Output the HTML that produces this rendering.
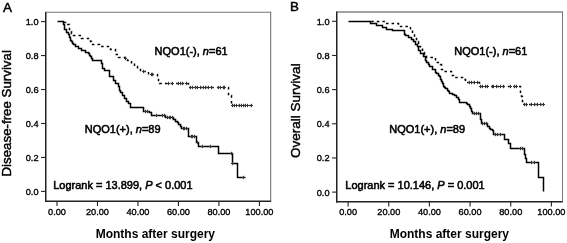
<!DOCTYPE html>
<html><head><meta charset="utf-8"><style>
html,body{margin:0;padding:0;background:#fff;width:567px;height:243px;overflow:hidden}
svg{display:block;will-change:transform}
text{font-family:"Liberation Sans",sans-serif;fill:#000}
.tk{font-size:9.2px;stroke:#000;stroke-width:0.35px}
.lab{font-size:12px;font-weight:bold}
.ylab{font-size:13.3px;stroke:#000;stroke-width:0.45px}
.ann{font-size:11px;stroke:#000;stroke-width:0.55px}
.let{font-size:13.3px;stroke:#000;stroke-width:0.5px}
</style></head><body>
<svg width="567" height="243" viewBox="0 0 567 243">
<path d="M45.75,11.75V202.0" stroke="#222" stroke-width="1.5"/>
<path d="M45.0,201.25H271.2" stroke="#222" stroke-width="1.5"/>
<path d="M45.75,12.25H270.7" stroke="#777" stroke-width="1"/>
<path d="M270.7,11.75V201.25" stroke="#666" stroke-width="1"/>
<path d="M41.05,21.60H45.75" stroke="#222" stroke-width="1.1"/>
<text transform="translate(38.55,25.10) scale(1,1.05)" class="tk" text-anchor="end">1.0</text>
<path d="M41.05,55.56H45.75" stroke="#222" stroke-width="1.1"/>
<text transform="translate(38.55,59.06) scale(1,1.05)" class="tk" text-anchor="end">0.8</text>
<path d="M41.05,89.52H45.75" stroke="#222" stroke-width="1.1"/>
<text transform="translate(38.55,93.02) scale(1,1.05)" class="tk" text-anchor="end">0.6</text>
<path d="M41.05,123.48H45.75" stroke="#222" stroke-width="1.1"/>
<text transform="translate(38.55,126.98) scale(1,1.05)" class="tk" text-anchor="end">0.4</text>
<path d="M41.05,157.44H45.75" stroke="#222" stroke-width="1.1"/>
<text transform="translate(38.55,160.94) scale(1,1.05)" class="tk" text-anchor="end">0.2</text>
<path d="M41.05,191.40H45.75" stroke="#222" stroke-width="1.1"/>
<text transform="translate(38.55,194.90) scale(1,1.05)" class="tk" text-anchor="end">0.0</text>
<path d="M57.00,201.25V206.05" stroke="#222" stroke-width="1.1"/>
<text transform="translate(57.00,214.7) scale(1,1.05)" class="tk" text-anchor="middle">0.00</text>
<path d="M97.48,201.25V206.05" stroke="#222" stroke-width="1.1"/>
<text transform="translate(97.48,214.7) scale(1,1.05)" class="tk" text-anchor="middle">20.00</text>
<path d="M137.96,201.25V206.05" stroke="#222" stroke-width="1.1"/>
<text transform="translate(137.96,214.7) scale(1,1.05)" class="tk" text-anchor="middle">40.00</text>
<path d="M178.44,201.25V206.05" stroke="#222" stroke-width="1.1"/>
<text transform="translate(178.44,214.7) scale(1,1.05)" class="tk" text-anchor="middle">60.00</text>
<path d="M218.92,201.25V206.05" stroke="#222" stroke-width="1.1"/>
<text transform="translate(218.92,214.7) scale(1,1.05)" class="tk" text-anchor="middle">80.00</text>
<path d="M259.40,201.25V206.05" stroke="#222" stroke-width="1.1"/>
<text transform="translate(259.40,214.7) scale(1,1.05)" class="tk" text-anchor="middle">100.00</text>
<path d="M336.75,11.5V202.5" stroke="#222" stroke-width="1.5"/>
<path d="M336.0,201.75H563.0" stroke="#222" stroke-width="1.5"/>
<path d="M336.75,12.0H562.5" stroke="#444" stroke-width="1"/>
<path d="M562.5,11.5V201.75" stroke="#777" stroke-width="1"/>
<path d="M332.05,21.30H336.75" stroke="#222" stroke-width="1.1"/>
<text transform="translate(329.55,24.80) scale(1,1.05)" class="tk" text-anchor="end">1.0</text>
<path d="M332.05,55.46H336.75" stroke="#222" stroke-width="1.1"/>
<text transform="translate(329.55,58.96) scale(1,1.05)" class="tk" text-anchor="end">0.8</text>
<path d="M332.05,89.62H336.75" stroke="#222" stroke-width="1.1"/>
<text transform="translate(329.55,93.12) scale(1,1.05)" class="tk" text-anchor="end">0.6</text>
<path d="M332.05,123.78H336.75" stroke="#222" stroke-width="1.1"/>
<text transform="translate(329.55,127.28) scale(1,1.05)" class="tk" text-anchor="end">0.4</text>
<path d="M332.05,157.94H336.75" stroke="#222" stroke-width="1.1"/>
<text transform="translate(329.55,161.44) scale(1,1.05)" class="tk" text-anchor="end">0.2</text>
<path d="M332.05,192.10H336.75" stroke="#222" stroke-width="1.1"/>
<text transform="translate(329.55,195.60) scale(1,1.05)" class="tk" text-anchor="end">0.0</text>
<path d="M348.10,201.75V206.55" stroke="#222" stroke-width="1.1"/>
<text transform="translate(348.10,215.0) scale(1,1.05)" class="tk" text-anchor="middle">0.00</text>
<path d="M388.76,201.75V206.55" stroke="#222" stroke-width="1.1"/>
<text transform="translate(388.76,215.0) scale(1,1.05)" class="tk" text-anchor="middle">20.00</text>
<path d="M429.42,201.75V206.55" stroke="#222" stroke-width="1.1"/>
<text transform="translate(429.42,215.0) scale(1,1.05)" class="tk" text-anchor="middle">40.00</text>
<path d="M470.08,201.75V206.55" stroke="#222" stroke-width="1.1"/>
<text transform="translate(470.08,215.0) scale(1,1.05)" class="tk" text-anchor="middle">60.00</text>
<path d="M510.74,201.75V206.55" stroke="#222" stroke-width="1.1"/>
<text transform="translate(510.74,215.0) scale(1,1.05)" class="tk" text-anchor="middle">80.00</text>
<path d="M551.40,201.75V206.55" stroke="#222" stroke-width="1.1"/>
<text transform="translate(551.40,215.0) scale(1,1.05)" class="tk" text-anchor="middle">100.00</text>

<path d="M57.50,21.50L63.50,21.50L63.50,24.50L64.50,24.50L64.50,26.50L64.50,29.50L65.50,29.50L66.50,29.50L66.50,32.50L67.50,32.50L68.50,32.50L68.50,34.50L69.50,34.50L69.50,37.50L70.50,37.50L70.50,40.50L71.50,40.50L71.50,41.50L72.50,41.50L72.50,43.50L73.50,43.50L73.50,44.50L74.50,44.50L75.50,44.50L75.50,46.50L77.50,46.50L78.50,46.50L78.50,48.50L80.50,48.50L81.50,48.50L81.50,50.50L83.50,50.50L85.50,50.50L85.50,52.50L87.50,52.50L88.50,52.50L88.50,53.50L89.50,53.50L89.50,55.50L90.50,55.50L90.50,56.50L91.50,56.50L91.50,58.50L92.50,58.50L92.50,60.50L93.50,60.50L101.50,60.50L101.50,63.50L102.50,63.50L102.50,68.50L104.50,68.50L104.50,70.50L109.50,70.50L109.50,76.50L113.50,76.50L113.50,80.50L115.50,80.50L115.50,83.50L118.50,83.50L118.50,86.50L119.50,86.50L119.50,90.50L120.50,90.50L120.50,92.50L122.50,92.50L122.50,95.50L124.50,95.50L124.50,98.50L126.50,98.50L126.50,101.50L128.50,101.50L128.50,103.50L130.50,103.50L130.50,107.50L143.50,107.50L143.50,111.50L148.50,111.50L149.50,111.50L149.50,112.50L151.50,112.50L151.50,115.50L152.50,115.50L165.50,115.50L165.50,117.50L173.50,117.50L173.50,119.50L174.50,119.50L175.50,119.50L175.50,121.50L177.50,121.50L177.50,122.50L178.50,122.50L178.50,124.50L179.50,124.50L180.50,124.50L180.50,126.50L181.50,126.50L181.50,128.50L188.50,128.50L188.50,133.50L188.50,136.50L189.50,136.50L196.50,136.50L196.50,142.50L198.50,142.50L198.50,146.50L218.50,146.50L218.50,153.50L232.50,153.50L232.50,163.50L237.50,163.50L237.50,177.50L245.50,177.50" fill="none" stroke="#000" stroke-width="1.5"/>
<path d="M145.5,109.8V113.2M144.0,111.5H147.0M147.5,109.8V113.2M146.0,111.5H149.0M156.5,113.8V117.2M155.0,115.5H158.0M162.5,113.8V117.2M161.0,115.5H164.0M164.5,113.8V117.2M163.0,115.5H166.0M167.5,115.8V119.2M166.0,117.5H169.0M169.5,115.8V119.2M168.0,117.5H171.0M170.5,115.8V119.2M169.0,117.5H172.0M172.5,115.8V119.2M171.0,117.5H174.0M183.5,126.8V130.2M182.0,128.5H185.0M184.5,126.8V130.2M183.0,128.5H186.0M186.5,126.8V130.2M185.0,128.5H188.0M191.5,134.8V138.2M190.0,136.5H193.0M192.5,134.8V138.2M191.0,136.5H194.0M194.5,134.8V138.2M193.0,136.5H196.0M197.5,140.8V144.2M196.0,142.5H199.0M202.5,144.8V148.2M201.0,146.5H204.0M210.5,144.8V148.2M209.0,146.5H212.0M231.5,151.8V155.2M230.0,153.5H233.0M232.5,161.8V165.2M231.0,163.5H234.0M243.5,175.8V179.2M242.0,177.5H245.0" stroke="#333" stroke-width="1"/>
<path d="M63.50,21.50L63.50,22.50L65.50,22.50L65.50,23.50L66.50,23.50L66.50,24.50L67.50,24.50L69.50,24.50L69.50,30.50L69.50,31.50L71.50,31.50L71.50,33.50L72.50,33.50L72.50,34.50L73.50,34.50L73.50,35.50L74.50,35.50L81.50,35.50L81.50,38.50L89.50,38.50L90.50,38.50L90.50,41.50L91.50,41.50L91.50,44.50L93.50,44.50L94.50,44.50L96.50,44.50L99.50,44.50L99.50,46.50L110.50,46.50L110.50,49.50L115.50,49.50L115.50,54.50L118.50,54.50L118.50,57.50L127.50,57.50L127.50,60.50L131.50,60.50L131.50,63.50L134.50,63.50L134.50,66.50L137.50,66.50L137.50,69.50L140.50,69.50L140.50,71.50L148.50,71.50L148.50,74.50L156.50,74.50L157.50,74.50L157.50,77.50L158.50,77.50L158.50,80.50L159.50,80.50L159.50,83.50L188.50,83.50L188.50,87.50L228.50,87.50L228.50,95.50L231.50,95.50L231.50,105.50L252.50,105.50" fill="none" stroke="#000" stroke-width="1.5" stroke-dasharray="2.5,3.1" stroke-dashoffset="4.6"/>
<path d="M125.5,56.8V60.2M124.0,58.5H127.0M143.5,69.8V73.2M142.0,71.5H145.0M151.5,72.8V76.2M150.0,74.5H153.0M152.5,72.8V76.2M151.0,74.5H154.0M168.5,81.8V85.2M167.0,83.5H170.0M172.5,81.8V85.2M171.0,83.5H174.0M178.5,81.8V85.2M177.0,83.5H180.0M180.5,81.8V85.2M179.0,83.5H182.0M182.5,81.8V85.2M181.0,83.5H184.0M186.5,81.8V85.2M185.0,83.5H188.0M190.5,85.8V89.2M189.0,87.5H192.0M192.5,85.8V89.2M191.0,87.5H194.0M195.5,85.8V89.2M194.0,87.5H197.0M197.5,85.8V89.2M196.0,87.5H199.0M200.5,85.8V89.2M199.0,87.5H202.0M203.5,85.8V89.2M202.0,87.5H205.0M205.5,85.8V89.2M204.0,87.5H207.0M208.5,85.8V89.2M207.0,87.5H210.0M211.5,85.8V89.2M210.0,87.5H213.0M218.5,85.8V89.2M217.0,87.5H220.0M220.5,85.8V89.2M219.0,87.5H222.0M223.5,85.8V89.2M222.0,87.5H225.0M224.5,85.8V89.2M223.0,87.5H226.0M232.5,103.8V107.2M231.0,105.5H234.0M234.5,103.8V107.2M233.0,105.5H236.0M236.5,103.8V107.2M235.0,105.5H238.0M239.5,103.8V107.2M238.0,105.5H241.0M241.5,103.8V107.2M240.0,105.5H243.0M243.5,103.8V107.2M242.0,105.5H245.0M245.5,103.8V107.2M244.0,105.5H247.0M247.5,103.8V107.2M246.0,105.5H249.0M251.5,103.8V107.2M250.0,105.5H253.0" stroke="#333" stroke-width="1"/>
<path d="M348.50,21.50L370.50,21.50L370.50,23.50L376.50,23.50L376.50,25.50L382.50,25.50L382.50,27.50L386.50,27.50L386.50,29.50L392.50,29.50L392.50,30.50L404.50,30.50L404.50,34.50L405.50,34.50L405.50,35.50L407.50,35.50L408.50,35.50L408.50,37.50L409.50,37.50L411.50,37.50L411.50,39.50L412.50,39.50L413.50,39.50L413.50,41.50L414.50,41.50L415.50,41.50L415.50,44.50L416.50,44.50L417.50,44.50L417.50,46.50L418.50,46.50L418.50,50.50L420.50,50.50L420.50,53.50L421.50,53.50L423.50,53.50L423.50,56.50L424.50,56.50L425.50,56.50L425.50,60.50L426.50,60.50L426.50,62.50L427.50,62.50L428.50,62.50L428.50,64.50L429.50,64.50L429.50,66.50L430.50,66.50L432.50,66.50L432.50,69.50L434.50,69.50L435.50,69.50L435.50,72.50L436.50,72.50L436.50,73.50L437.50,73.50L438.50,73.50L438.50,75.50L439.50,75.50L439.50,76.50L440.50,76.50L440.50,79.50L441.50,79.50L441.50,81.50L442.50,81.50L442.50,83.50L443.50,83.50L443.50,86.50L444.50,86.50L444.50,87.50L445.50,87.50L445.50,88.50L446.50,88.50L447.50,88.50L447.50,90.50L448.50,90.50L448.50,91.50L449.50,91.50L449.50,93.50L450.50,93.50L452.50,93.50L452.50,94.50L454.50,94.50L454.50,95.50L455.50,95.50L456.50,95.50L456.50,97.50L457.50,97.50L458.50,97.50L458.50,99.50L459.50,99.50L459.50,102.50L465.50,102.50L466.50,102.50L466.50,103.50L467.50,103.50L467.50,104.50L468.50,104.50L469.50,104.50L469.50,106.50L470.50,106.50L470.50,108.50L471.50,108.50L471.50,111.50L472.50,111.50L472.50,113.50L473.50,113.50L479.50,113.50L480.50,113.50L480.50,114.50L480.50,117.50L480.50,119.50L481.50,119.50L481.50,123.50L487.50,123.50L487.50,126.50L488.50,126.50L489.50,126.50L489.50,128.50L490.50,128.50L490.50,129.50L491.50,129.50L492.50,129.50L492.50,130.50L493.50,130.50L493.50,134.50L494.50,134.50L504.50,134.50L504.50,139.50L508.50,139.50L508.50,143.50L510.50,143.50L510.50,148.50L524.50,148.50L524.50,154.50L525.50,154.50L525.50,158.50L526.50,158.50L526.50,162.50L527.50,162.50L538.50,162.50L538.50,177.50L543.50,177.50L543.50,191.50" fill="none" stroke="#000" stroke-width="1.5"/>
<path d="M474.5,111.8V115.2M473.0,113.5H476.0M476.5,111.8V115.2M475.0,113.5H478.0M478.5,111.8V115.2M477.0,113.5H480.0M482.5,121.8V125.2M481.0,123.5H484.0M484.5,121.8V125.2M483.0,123.5H486.0M486.5,121.8V125.2M485.0,123.5H488.0M495.5,132.8V136.2M494.0,134.5H497.0M497.5,132.8V136.2M496.0,134.5H499.0M500.5,132.8V136.2M499.0,134.5H502.0M520.5,146.8V150.2M519.0,148.5H522.0M522.5,146.8V150.2M521.0,148.5H524.0M531.5,160.8V164.2M530.0,162.5H533.0M534.5,160.8V164.2M533.0,162.5H536.0" stroke="#333" stroke-width="1"/>
<path d="M369.50,21.50L385.50,21.50L385.50,23.50L398.50,23.50L398.50,25.50L400.50,25.50L400.50,26.50L409.50,26.50L410.50,26.50L410.50,29.50L411.50,29.50L412.50,29.50L412.50,33.50L413.50,33.50L414.50,33.50L414.50,37.50L415.50,37.50L416.50,37.50L416.50,41.50L417.50,41.50L418.50,41.50L418.50,44.50L419.50,44.50L419.50,46.50L420.50,46.50L420.50,48.50L421.50,48.50L422.50,48.50L422.50,52.50L423.50,52.50L424.50,52.50L424.50,54.50L426.50,54.50L426.50,57.50L435.50,57.50L435.50,62.50L440.50,62.50L440.50,64.50L441.50,64.50L441.50,67.50L441.50,69.50L442.50,69.50L442.50,71.50L443.50,71.50L450.50,71.50L451.50,71.50L451.50,75.50L453.50,75.50L453.50,77.50L454.50,77.50L461.50,77.50L462.50,77.50L462.50,79.50L463.50,79.50L465.50,79.50L465.50,82.50L467.50,82.50L479.50,82.50L479.50,86.50L520.50,86.50L520.50,93.50L521.50,93.50L521.50,96.50L522.50,96.50L522.50,104.50L544.50,104.50" fill="none" stroke="#000" stroke-width="1.5" stroke-dasharray="2.5,3.1" stroke-dashoffset="3.9"/>
<path d="M469.5,80.8V84.2M468.0,82.5H471.0M471.5,80.8V84.2M470.0,82.5H473.0M474.5,80.8V84.2M473.0,82.5H476.0M477.5,80.8V84.2M476.0,82.5H479.0M480.5,84.8V88.2M479.0,86.5H482.0M482.5,84.8V88.2M481.0,86.5H484.0M485.5,84.8V88.2M484.0,86.5H487.0M487.5,84.8V88.2M486.0,86.5H489.0M492.5,84.8V88.2M491.0,86.5H494.0M493.5,84.8V88.2M492.0,86.5H495.0M496.5,84.8V88.2M495.0,86.5H498.0M500.5,84.8V88.2M499.0,86.5H502.0M503.5,84.8V88.2M502.0,86.5H505.0M510.5,84.8V88.2M509.0,86.5H512.0M514.5,84.8V88.2M513.0,86.5H516.0M516.5,84.8V88.2M515.0,86.5H518.0M524.5,102.8V106.2M523.0,104.5H526.0M526.5,102.8V106.2M525.0,104.5H528.0M531.5,102.8V106.2M530.0,104.5H533.0M534.5,102.8V106.2M533.0,104.5H536.0M537.5,102.8V106.2M536.0,104.5H539.0M540.5,102.8V106.2M539.0,104.5H542.0M543.5,102.8V106.2M542.0,104.5H545.0" stroke="#333" stroke-width="1"/>

<text x="2.9" y="11.8" class="let" style="font-size:13.5px">A</text>
<text x="289.9" y="11.2" class="let">B</text>
<text x="95.7" y="238.3" class="lab">Months after surgery</text>
<text x="389.7" y="238.3" class="lab">Months after surgery</text>
<text transform="translate(10.8,176.5) rotate(-90)" class="ylab">Disease-free Survival</text>
<text transform="translate(300.4,157.9) rotate(-90)" class="ylab" style="font-size:13.5px">Overall Survival</text>
<text transform="translate(53.2,188.6) scale(1,1.06)" class="ann">Logrank = 13.899, <tspan font-style="italic">P</tspan> &lt; 0.001</text>
<text transform="translate(345.3,188.6) scale(1,1.06)" class="ann">Logrank = 10.146, <tspan font-style="italic">P</tspan> = 0.001</text>
<text transform="translate(154.6,54.7) scale(1,1.06)" class="ann">NQO1(-), <tspan font-style="italic">n</tspan>=61</text>
<text transform="translate(454.3,54.7) scale(1,1.06)" class="ann">NQO1(-), <tspan font-style="italic">n</tspan>=61</text>
<text transform="translate(84.8,132.8) scale(1,1.06)" class="ann">NQO1(+), <tspan font-style="italic">n</tspan>=89</text>
<text transform="translate(389.3,132.8) scale(1,1.06)" class="ann">NQO1(+), <tspan font-style="italic">n</tspan>=89</text>
</svg>
</body></html>
